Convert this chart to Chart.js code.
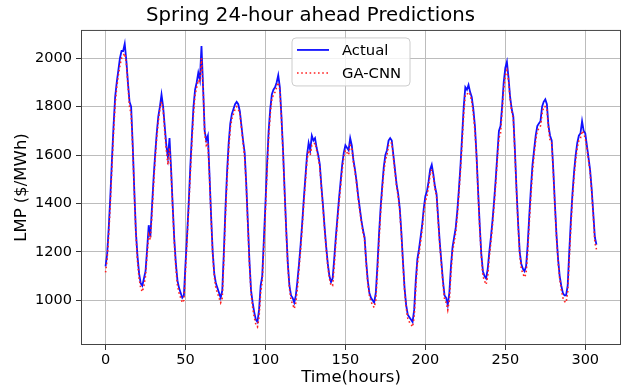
<!DOCTYPE html>
<html>
<head>
<meta charset="utf-8">
<title>Spring 24-hour ahead Predictions</title>
<script src="https://cdn.jsdelivr.net/npm/chart.js@4.4.1/dist/chart.umd.min.js"></script>
<style>
  html, body { margin: 0; padding: 0; background: #fff; }
  #wrap { width: 627px; height: 390px; }
</style>
</head>
<body>
<div id="wrap"><canvas id="lmpChart" width="627" height="390"></canvas></div>
<script>
// hourly LMP, spring test week(s)
const actual = [
  1140,1190,1300,1430,1580,1720,1840,1900,1950,2000,2030,2030,
  2060,1990,1900,1820,1800,1640,1450,1280,1180,1110,1070,1060,
  1090,1120,1210,1310,1260,1380,1500,1600,1690,1760,1800,1850,
  1800,1720,1640,1590,1670,1540,1390,1250,1150,1080,1050,1030,
  1010,1020,1150,1270,1400,1550,1680,1800,1870,1900,1940,1910,
  2050,1880,1700,1660,1680,1520,1350,1200,1110,1070,1050,1030,
  1010,1040,1200,1380,1530,1650,1730,1770,1790,1810,1820,1810,
  1780,1720,1660,1610,1480,1320,1160,1040,990,950,920,910,
  960,1060,1100,1250,1400,1560,1700,1790,1850,1870,1880,1900,
  1930,1880,1760,1620,1450,1290,1150,1060,1020,1010,990,1020,
  1080,1150,1230,1320,1420,1510,1600,1650,1620,1680,1660,1670,
  1630,1600,1560,1470,1390,1300,1220,1150,1100,1075,1090,1170,
  1260,1340,1420,1490,1560,1610,1640,1630,1620,1670,1640,1580,
  1540,1490,1430,1380,1330,1290,1260,1160,1080,1030,1010,1000,
  990,1030,1140,1270,1380,1470,1550,1600,1620,1660,1670,1660,
  1600,1540,1480,1440,1380,1280,1160,1050,980,940,930,920,
  910,960,1080,1170,1210,1260,1310,1380,1430,1450,1490,1540,
  1560,1520,1470,1440,1340,1240,1160,1080,1020,1010,980,1030,
  1140,1220,1260,1300,1370,1460,1560,1680,1800,1880,1870,1890,
  1860,1840,1790,1720,1600,1450,1310,1190,1120,1100,1090,1130,
  1200,1260,1330,1410,1500,1600,1700,1720,1800,1900,1960,1985,
  1920,1840,1790,1760,1620,1460,1320,1200,1150,1130,1120,1140,
  1230,1350,1460,1560,1620,1680,1720,1730,1740,1800,1820,1830,
  1810,1720,1680,1660,1540,1400,1270,1170,1100,1060,1030,1020,
  1020,1060,1200,1330,1440,1530,1600,1650,1680,1690,1740,1700,
  1690,1640,1590,1540,1460,1360,1260,1230
];

const gaCnn = [
  1115,1170,1270,1400,1550,1690,1810,1880,1930,1970,2000,2010,
  2020,1980,1890,1800,1770,1630,1440,1270,1160,1090,1050,1035,
  1060,1100,1190,1270,1250,1350,1470,1580,1670,1740,1790,1820,
  1790,1700,1620,1560,1630,1530,1380,1240,1130,1060,1030,1010,
  990,1000,1120,1250,1380,1520,1650,1770,1850,1880,1910,1900,
  2000,1880,1690,1640,1650,1510,1340,1190,1100,1050,1030,1010,
  990,1010,1170,1350,1500,1620,1710,1750,1770,1790,1800,1790,
  1770,1710,1650,1590,1470,1310,1150,1030,970,930,900,890,
  930,1030,1080,1220,1370,1530,1670,1770,1830,1850,1860,1880,
  1900,1870,1750,1610,1440,1280,1140,1050,1000,985,965,990,
  1050,1130,1210,1300,1400,1490,1580,1620,1600,1640,1640,1650,
  1620,1590,1550,1460,1380,1290,1210,1140,1090,1060,1060,1140,
  1240,1320,1400,1470,1540,1590,1620,1610,1600,1640,1630,1570,
  1530,1480,1420,1370,1320,1280,1250,1150,1070,1020,995,980,
  970,1000,1110,1240,1360,1450,1530,1580,1600,1640,1650,1650,
  1590,1530,1470,1430,1370,1270,1150,1040,970,925,910,900,
  890,930,1050,1150,1190,1240,1290,1360,1410,1430,1470,1520,
  1540,1510,1460,1430,1330,1230,1150,1070,1005,990,960,1000,
  1110,1200,1240,1280,1350,1440,1540,1650,1770,1850,1850,1860,
  1850,1820,1770,1700,1590,1440,1300,1180,1100,1080,1065,1100,
  1180,1240,1310,1390,1480,1580,1670,1690,1780,1870,1930,1950,
  1910,1830,1780,1750,1610,1450,1310,1190,1130,1110,1095,1110,
  1200,1320,1430,1530,1600,1660,1700,1710,1720,1770,1800,1800,
  1790,1710,1660,1650,1530,1390,1260,1160,1090,1045,1010,995,
  990,1030,1170,1300,1420,1510,1580,1630,1660,1670,1700,1690,
  1670,1630,1580,1530,1450,1350,1240,1210
];

const xTicks = [0, 50, 100, 150, 200, 250, 300];
const yTicks = [1000, 1200, 1400, 1600, 1800, 2000];

const hours = actual.map((_, i) => i);

Chart.defaults.font.family = '"DejaVu Sans", sans-serif';
Chart.defaults.color = '#000';

// plot frame on all four sides
const frame = {
  id: 'frame',
  afterDatasetsDraw(chart) {
    const { ctx, chartArea: a } = chart;
    ctx.save();
    ctx.strokeStyle = '#444';
    ctx.lineWidth = 1;
    ctx.strokeRect(a.left + 0.5, a.top + 0.5, a.right - a.left - 1, a.bottom - a.top - 1);
    ctx.restore();
  }
};

// boxed legend, upper centre of the plot
const boxLegend = {
  id: 'boxLegend',
  afterDraw(chart) {
    const { ctx, chartArea: a } = chart;
    const w = 118, h = 48;
    const x = (a.left + a.right) / 2 - w / 2;
    const y = a.top + 8;
    ctx.save();
    ctx.beginPath();
    ctx.roundRect(x, y, w, h, 4);
    ctx.fillStyle = 'rgba(255,255,255,0.8)';
    ctx.fill();
    ctx.strokeStyle = '#cccccc';
    ctx.lineWidth = 1;
    ctx.stroke();
    ctx.font = '14.8px "DejaVu Sans"';
    ctx.textBaseline = 'middle';
    chart.data.datasets.forEach((ds, i) => {
      const cy = y + 12 + i * 23;
      ctx.beginPath();
      ctx.setLineDash(ds.borderDash || []);
      ctx.strokeStyle = ds.borderColor;
      ctx.lineWidth = ds.borderWidth;
      ctx.moveTo(x + 5, cy);
      ctx.lineTo(x + 37, cy);
      ctx.stroke();
      ctx.setLineDash([]);
      ctx.fillStyle = '#000';
      ctx.fillText(ds.label, x + 50, cy + 1);
    });
    ctx.restore();
  }
};

new Chart(document.getElementById('lmpChart'), {
  type: 'line',
  data: {
    labels: hours,
    datasets: [
      {
        label: 'Actual',
        data: hours.map(h => ({ x: h, y: actual[h] })),
        borderColor: '#1010ff',
        borderWidth: 1.8,
        pointRadius: 0,
        tension: 0,
        order: 1
      },
      {
        label: 'GA-CNN',
        data: hours.map(h => ({ x: h, y: gaCnn[h] })),
        borderColor: '#ff2020',
        borderWidth: 1.6,
        borderDash: [1.6, 2.6],
        pointRadius: 0,
        tension: 0,
        order: 0
      }
    ]
  },
  options: {
    responsive: false,
    animation: false,
    layout: { padding: { left: 0, right: 6, top: 0, bottom: 0 } },
    plugins: {
      legend: { display: false },
      tooltip: { enabled: false },
      title: {
        display: true,
        text: 'Spring 24-hour ahead Predictions',
        font: { size: 19.7, weight: 'normal' },
        color: '#000',
        padding: { top: 4, bottom: 2.3 }
      }
    },
    scales: {
      x: {
        type: 'linear',
        min: -15.35,
        max: 322.35,
        afterBuildTicks: s => { s.ticks = xTicks.map(v => ({ value: v })); },
        afterFit: s => { s.height = 45; },
        border: { display: false },
        grid: { color: '#bcbcbc', lineWidth: 1, tickLength: 5, tickColor: '#333' },
        ticks: { font: { size: 14.5 }, color: '#000', padding: 2, maxRotation: 0, callback: v => String(v) },
        title: { display: true, text: 'Time(hours)', font: { size: 16.5 }, color: '#000', padding: { top: 0, bottom: 2 } }
      },
      y: {
        min: 815,
        max: 2117,
        afterBuildTicks: s => { s.ticks = yTicks.map(v => ({ value: v })); },
        afterFit: s => { s.width = 81; },
        border: { display: false },
        grid: { color: '#bcbcbc', lineWidth: 1, tickLength: 5, tickColor: '#333' },
        ticks: { font: { size: 14.5 }, color: '#000', padding: 4, callback: v => String(v) },
        title: { display: true, text: 'LMP ($/MWh)', font: { size: 16.5 }, color: '#000', padding: { top: 12, bottom: 0 } }
      }
    }
  },
  plugins: [frame, boxLegend]
});
</script>
</body>
</html>
